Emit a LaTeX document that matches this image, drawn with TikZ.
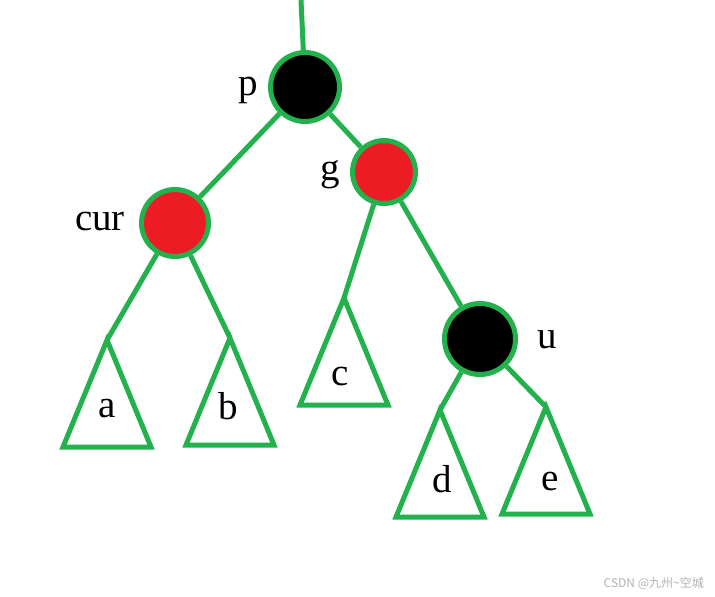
\documentclass[tikz,border=0pt]{standalone}
\usepackage{fontspec}
\setmainfont{Liberation Serif}
\newfontfamily\cjkfont{Noto Sans CJK SC}
\usepackage{xcolor}
\usepackage{tikz}
\definecolor{paintgreen}{HTML}{22B14C}
\definecolor{paintred}{HTML}{ED1C24}

\begin{document}
\begin{tikzpicture}[
  x=1pt, y=-1pt,
  rb/.style={circle, draw=paintgreen, line width=5pt, minimum size=66pt, inner sep=0pt},
  blk/.style={rb, fill=black},
  rd/.style={rb, fill=paintred},
  lbl/.style={anchor=base, inner sep=0pt, font=\fontsize{39}{39}\selectfont},
  link/.style={draw=paintgreen, line width=5pt},
  subtree/.style={draw=paintgreen, line width=5pt}
]
\useasboundingbox (0,0) rectangle (715,597);

% tree nodes
\node[blk, minimum size=69pt] (p) at (305,87) {};
\node[rd, minimum size=63pt] (g) at (384,172) {};
\node[rd, minimum size=67pt] (cur) at (175,223) {};
\node[blk, minimum size=71pt] (u) at (480,339) {};
\coordinate (root) at (301,0);

% subtrees (apex of each triangle)
\coordinate (ta) at (107,340);
\coordinate (tb) at (230,338);
\coordinate (tc) at (344,298);
\coordinate (td) at (440,410);
\coordinate (te) at (546,407);
\foreach \t in {ta,tb,tc,td,te}
  \draw[subtree] (\t) -- ++(-44,107) -- ++(88,0) -- cycle;

% links
\draw[link] (root) -- (p);
\draw[link] (p) -- (cur);
\draw[link] (p) -- (g);
\draw[link] (cur) -- (ta);
\draw[link] (cur) -- (tb);
\draw[link] (g) -- (tc);
\draw[link] (g) -- (u);
\draw[link] (u) -- (td);
\draw[link] (u) -- (te);

% names
\node[lbl] (lp) at (248,95) {p};
\node[lbl] (lg) at (330,180) {g};
\node[lbl] (lcur) at (100,230) {cur};
\node[lbl] (lu) at (547,348) {u};
\node[lbl] (la) at (107,417) {a};
\node[lbl] (lb) at (228,419) {b};
\node[lbl] (lc) at (340,385) {c};
\node[lbl] (ld) at (442,492) {d};
\node[lbl] (le) at (550,490) {e};

\node[anchor=east, inner sep=0pt, text=black!30, font=\cjkfont\fontsize{12}{12}\selectfont] (mark) at (704,583) {CSDN @九州\textasciitilde 空城};
\end{tikzpicture}
\end{document}
